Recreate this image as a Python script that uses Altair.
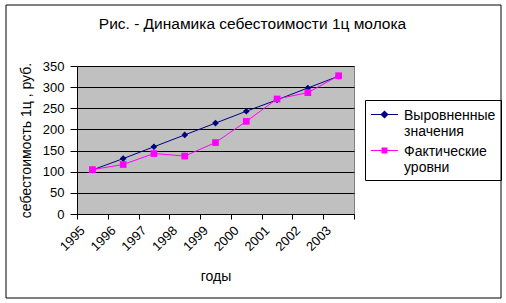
import altair as alt
import pandas as pd

years = ["1995", "1996", "1997", "1998", "1999", "2000", "2001", "2002", "2003"]
fitted = [104, 131, 159, 187, 215, 243, 270, 298, 326]
actual = [105, 117, 143, 137, 169, 219, 272, 287, 327]
series_names = ["Выровненные значения", "Фактические уровни"]
colors = ["#000080", "#FF00FF"]

rows = []
for y, v in zip(years, fitted):
    rows.append({"year": y, "value": v, "series": series_names[0]})
for y, v in zip(years, actual):
    rows.append({"year": y, "value": v, "series": series_names[1]})
df = pd.DataFrame(rows)

FONT = "Liberation Sans"

def x_enc():
    return alt.X(
        "year:O",
        scale=alt.Scale(type="band", paddingInner=0, paddingOuter=0),
        axis=alt.Axis(
            title="годы",
            labelAngle=-45,
            labelAlign="right",
            labelBaseline="middle",
            labelOffset=-10,
            labelPadding=9,
            tickBand="extent",
            tickSize=5,
            tickColor="black",
            domainColor="black",
            labelFont=FONT,
            labelFontSize=13,
            labelColor="black",
            titleFont=FONT,
            titleFontSize=14,
            titleFontWeight="normal",
            titleColor="black",
            titlePadding=16,
            grid=False,
        ),
    )

def y_enc():
    return alt.Y(
        "value:Q",
        scale=alt.Scale(domain=[0, 350], nice=False),
        axis=alt.Axis(
            title="себестоимость 1ц , руб.",
            values=[0, 50, 100, 150, 200, 250, 300, 350],
            tickSize=7,
            tickColor="black",
            domainColor="black",
            gridColor="black",
            gridWidth=1,
            labelFont=FONT,
            labelFontSize=13,
            labelColor="black",
            labelPadding=6,
            labelOverlap=False,
            titleFont=FONT,
            titleFontSize=14,
            titleFontWeight="normal",
            titleColor="black",
            titlePadding=9,
        ),
    )

def color_scale():
    return alt.Scale(domain=series_names, range=colors)

lines = alt.Chart(df).mark_line(strokeWidth=1, clip=False).encode(
    x=x_enc(),
    y=y_enc(),
    color=alt.Color("series:N", scale=color_scale(), legend=None),
)

points = alt.Chart(df).mark_point(filled=True, opacity=1, size=45, clip=False).encode(
    x=x_enc(),
    y=y_enc(),
    color=alt.Color("series:N", scale=color_scale(), legend=None),
    shape=alt.Shape(
        "series:N",
        scale=alt.Scale(domain=series_names, range=["diamond", "square"]),
        legend=None,
    ),
)

diamond_path = "M-1,-0.41H1V-0.33H-1Z M0,-0.67L0.3,-0.37L0,-0.07L-0.3,-0.37Z"
square_path = "M-1,-0.41H1V-0.33H-1Z M-0.22,-0.59H0.22V-0.15H-0.22Z"

leg = alt.Legend(
    title=None,
    orient="none",
    legendX=288,
    legendY=34,
    strokeColor="black",
    padding=5,
    symbolSize=729,
    labelFont=FONT,
    labelFontSize=14,
    labelColor="black",
    labelBaseline="alphabetic",
    labelOffset=5,
    labelExpr="split(datum.label, ' ')",
    rowPadding=2,
)

legend_layer = alt.Chart(df).transform_filter("false").mark_point(
    filled=True, opacity=1, size=729
).encode(
    x=x_enc(),
    y=y_enc(),
    color=alt.Color("series:N", scale=color_scale(), legend=leg),
    shape=alt.Shape(
        "series:N",
        scale=alt.Scale(domain=series_names, range=[diamond_path, square_path]),
        legend=leg,
    ),
)

border = alt.Chart(alt.Data(values=[{"a": 1}])).mark_rect(
    fill=None, filled=False, stroke="black", strokeWidth=1, clip=False
).encode(
    x=alt.value(-71), x2=alt.value(424), y=alt.value(-61), y2=alt.value(232)
)

chart = (
    alt.layer(lines, points, legend_layer, border)
    .resolve_scale(shape="independent", color="independent")
    .properties(
        width=277,
        height=148,
        autosize=alt.AutoSizeParams(type="none"),
        padding={"left": 77, "top": 66, "right": 152, "bottom": 89},
        background="white",
        title=alt.TitleParams(
            text="Рис. - Динамика себестоимости 1ц молока",
            font=FONT,
            fontSize=15.5,
            fontWeight="normal",
            color="black",
            anchor="middle",
            baseline="alphabetic",
            dx=37,
            offset=-40,
        ),
    )
    .configure_view(fill="#C0C0C0", stroke="#808080", strokeWidth=1)
)

chart.save("out.html", embed_options={"renderer": "svg", "actions": False})
